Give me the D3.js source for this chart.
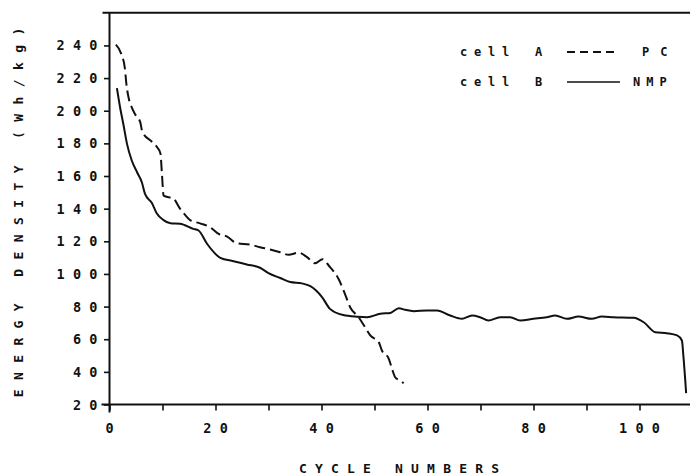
<!DOCTYPE html>
<html>
<head>
<meta charset="utf-8">
<script src="https://cdn.jsdelivr.net/npm/d3@7/dist/d3.min.js"></script>
<style>
  html, body { margin: 0; padding: 0; background: #fff; }
  svg { display: block; }
  text { font-family: "DejaVu Sans Mono", monospace; font-weight: bold; fill: #111; }
</style>
</head>
<body>
<svg id="chart" width="690" height="475"></svg>
<script>
// ---- data ----
const pcCycles = [1.2, 2.2, 2.9, 3.2, 3.6, 4.2, 4.8, 5.8, 6.2, 8.0, 8.9, 9.6, 9.9, 10.2, 12.1, 13.3, 14.3, 15.2, 17.1, 19.0, 20.6, 22.2, 24.0, 26.5, 28.4, 30.3, 32.2, 33.8, 35.7, 37.2, 38.8, 40.2, 41.4, 43.2, 44.4, 45.4, 47.0, 48.2, 49.2, 50.8, 51.4, 52.7, 53.3, 53.9, 54.8, 55.5];
const pcValues = [240.5, 235, 226, 216, 208, 202, 198, 193, 187, 181, 178, 174, 161, 148, 146, 140, 136, 133, 131, 128.6, 124.5, 122.9, 118.8, 118, 116.4, 115, 113.3, 111.7, 113, 110.5, 106.5, 109, 105, 97, 88, 79.6, 73.5, 67.4, 62.3, 58.2, 53.1, 48, 41.9, 36.7, 34.7, 33];

const nmpCycles = [1.4, 2.0, 2.6, 3.3, 4.2, 5.2, 6.1, 6.7, 8.0, 8.9, 10.2, 11.5, 13.3, 15.8, 16.8, 18.4, 20.9, 23.4, 25.9, 28.4, 30.0, 32.2, 34.1, 36.3, 37.9, 40.1, 41.6, 44.1, 46.7, 48.6, 51.1, 53.0, 54.6, 55.8, 57.4, 59.9, 61.8, 64.3, 66.5, 68.4, 69.9, 71.5, 73.7, 75.6, 77.5, 80.0, 82.5, 84.1, 86.3, 88.5, 91.0, 92.9, 95.1, 98.9, 100.8, 103.0, 105.2, 107.1, 108.0, 108.3, 108.8];
const nmpValues = [213.8, 202, 192, 179.7, 169.5, 162.3, 156.2, 149, 143.4, 137.2, 133, 131, 130.7, 127.6, 126.6, 118.5, 109.9, 107.8, 105.8, 103.8, 100.5, 97.5, 95, 94.2, 92.5, 85.8, 78.6, 74.8, 73.8, 73.5, 75.6, 76.1, 79, 78, 77.2, 77.6, 77.6, 74.5, 72.5, 74.5, 73.5, 71.5, 73.5, 73.5, 71.5, 72.5, 73.5, 74.5, 72.5, 73.9, 72.5, 73.9, 73.5, 73.1, 70.4, 64.3, 63.7, 62.3, 59.2, 49, 27];

const yTickValues = [20, 40, 60, 80, 100, 120, 140, 160, 180, 200, 220, 240];
const xTickValues = [0, 20, 40, 60, 80, 100];
const xMinorTicks = [10, 30, 50, 70, 90];

const legendCells = ["cell", "cell"];
const legendIds = ["A", "B"];
const legendNames = ["PC", "NMP"];

const xTitle = "CYCLE NUMBERS";
const yTitle = "ENERGY DENSITY (Wh/kg)";

// ---- scales ----
const svg = d3.select("#chart");
const x = d3.scaleLinear().domain([0, 110]).range([109.5, 692.5]);
const y = d3.scaleLinear().domain([20, 260]).range([404.5, 12.8]);

const ink = "#111";

const g = svg.append("g");
// top line
g.append("line").attr("x1", x(0) - 7).attr("x2", 690).attr("y1", y(260)).attr("y2", y(260))
  .attr("stroke", ink).attr("stroke-width", 2);
// left axis
const yAxis = d3.axisLeft(y).tickValues(yTickValues).tickSize(5.5).tickFormat("");
const yg = g.append("g").attr("transform", `translate(${x(0)},0)`).call(yAxis);
yg.select(".domain").remove();
yg.selectAll(".tick line").attr("stroke", ink).attr("stroke-width", 1.6);
g.append("line").attr("x1", x(0)).attr("x2", x(0)).attr("y1", y(260)).attr("y2", y(20) + 8)
  .attr("stroke", ink).attr("stroke-width", 2);

// bottom axis
const xAxis = d3.axisBottom(x).tickValues(xTickValues.concat(xMinorTicks)).tickSize(6).tickFormat("");
const xg = g.append("g").attr("transform", `translate(0,${y(20)})`).call(xAxis);
xg.select(".domain").remove();
xg.selectAll(".tick line").attr("stroke", ink).attr("stroke-width", 1.6);
g.append("line").attr("x1", x(0) - 8).attr("x2", 690).attr("y1", y(20)).attr("y2", y(20))
  .attr("stroke", ink).attr("stroke-width", 2);

// tick labels
const ls = 8.3;
g.selectAll(".ylab").data(yTickValues).enter().append("text")
  .attr("x", x(0) - 12 + ls).attr("y", d => y(d) + 5)
  .attr("text-anchor", "end").attr("font-size", 13.5)
  .attr("letter-spacing", ls).text(d => d);
g.selectAll(".xlab").data(xTickValues).enter().append("text")
  .attr("x", d => x(d) + ls / 2).attr("y", y(20) + 28)
  .attr("text-anchor", "middle").attr("font-size", 13.5)
  .attr("letter-spacing", ls).text(d => d);

// axis titles
const lsX = 8.2, lsY = 9.4;
svg.append("text").attr("x", 399 + lsX / 2).attr("y", 473)
  .attr("text-anchor", "middle").attr("font-size", 13)
  .attr("letter-spacing", lsX).text(xTitle);
svg.append("text").attr("transform", "translate(23,212.5) rotate(-90)")
  .attr("x", lsY / 2)
  .attr("text-anchor", "middle").attr("font-size", 13)
  .attr("letter-spacing", lsY).text(yTitle);

// curves
const line = d3.line().x(d => x(d[0])).y(d => y(d[1])).curve(d3.curveMonotoneX);
const pcData = pcCycles.map((c, i) => [c, pcValues[i]]);
const nmpData = nmpCycles.map((c, i) => [c, nmpValues[i]]);
svg.append("path").datum(nmpData).attr("d", line)
  .attr("fill", "none").attr("stroke", ink).attr("stroke-width", 2).attr("stroke-linejoin", "round");
svg.append("path").datum(pcData).attr("d", line)
  .attr("fill", "none").attr("stroke", ink).attr("stroke-width", 2)
  .attr("stroke-dasharray", "11,5").attr("stroke-linejoin", "round");

// legend
const legY = [56, 86];
const lg = svg.append("g");
legendCells.forEach((c, i) => {
  lg.append("text").attr("x", 460).attr("y", legY[i]).attr("font-size", 12)
    .attr("letter-spacing", 6.8).text(c);
  lg.append("text").attr("x", 535).attr("y", legY[i]).attr("font-size", 12)
    .attr("letter-spacing", 6.8).text(legendIds[i]);
  lg.append("line").attr("x1", 567).attr("x2", i === 0 ? 614 : 620)
    .attr("y1", legY[i] - 4).attr("y2", legY[i] - 4)
    .attr("stroke", ink).attr("stroke-width", i === 0 ? 2 : 1.4)
    .attr("stroke-dasharray", i === 0 ? "8,5" : null);
  lg.append("text").attr("x", i === 0 ? 642 : 633).attr("y", legY[i]).attr("font-size", 12)
    .attr("letter-spacing", i === 0 ? 11 : 6).text(legendNames[i]);
});
</script>
</body>
</html>
